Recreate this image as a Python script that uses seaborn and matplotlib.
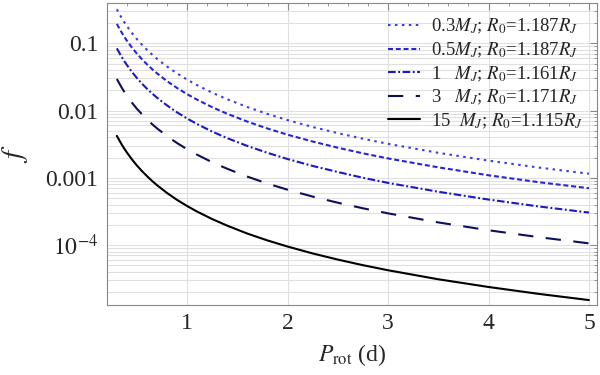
import numpy as np
import pandas as pd
import matplotlib
matplotlib.use("Agg")
import matplotlib.pyplot as plt
import matplotlib.ticker as mticker
import seaborn as sns

# rotation period (d) and f for each planet model
period = [0.3, 0.325, 0.35, 0.375, 0.4, 0.45, 0.5, 0.55, 0.6, 0.65, 0.7, 0.8, 0.9, 1.0,
          1.1, 1.25, 1.4, 1.6, 1.8, 2.0, 2.25, 2.5, 2.75, 3.0, 3.5, 4.0, 4.5, 5.0]

f_03 = [0.32, 0.2727, 0.2351, 0.2048, 0.18, 0.1422, 0.1152, 0.0952, 0.08, 0.0682, 0.0588,
        0.045, 0.0356, 0.0288, 0.0238, 0.0184, 0.0147, 0.01125, 0.00889, 0.0072, 0.00569,
        0.00461, 0.00381, 0.0032, 0.00235, 0.0018, 0.00142, 0.00115]
f_05 = [0.194, 0.166, 0.143, 0.1244, 0.109, 0.0864, 0.070, 0.0579, 0.0486, 0.0414, 0.0357,
        0.0273, 0.0216, 0.0175, 0.01446, 0.0112, 0.00893, 0.00684, 0.0054, 0.00437, 0.00346,
        0.0028, 0.00231, 0.00194, 0.00143, 0.00109, 0.00086, 0.0007]
f_1 = [0.084, 0.072, 0.062, 0.054, 0.0475, 0.0375, 0.0304, 0.0251, 0.0211, 0.018, 0.0155,
       0.0119, 0.00938, 0.0076, 0.00628, 0.00486, 0.00388, 0.00297, 0.00235, 0.0019, 0.0015,
       0.00122, 0.001, 0.00084, 0.00062, 0.000475, 0.000375, 0.000304]
f_3 = [0.0295, 0.0252, 0.0217, 0.0189, 0.0166, 0.0131, 0.0106, 0.0088, 0.0074, 0.0063,
       0.00543, 0.00416, 0.00328, 0.00266, 0.0022, 0.0017, 0.00136, 0.00104, 0.00082,
       0.000665, 0.000525, 0.000426, 0.000352, 0.000296, 0.000217, 0.000166, 0.000131, 0.000106]
f_15 = [0.0042, 0.0036, 0.0031, 0.0027, 0.00238, 0.00188, 0.00152, 0.00126, 0.00106, 0.0009,
        0.000776, 0.000594, 0.000469, 0.00038, 0.000314, 0.000243, 0.000194, 0.000148,
        0.000117, 0.000095, 0.000075, 0.0000608, 0.0000502, 0.0000422, 0.000031, 0.0000238,
        0.0000188, 0.0000152]

labels = [r"0.3$M_J$; $R_0$=1.187$R_J$",
          r"0.5$M_J$; $R_0$=1.187$R_J$",
          r"1   $M_J$; $R_0$=1.161$R_J$",
          r"3   $M_J$; $R_0$=1.171$R_J$",
          r"15  $M_J$; $R_0$=1.115$R_J$"]

ytick_vals = [1e-4, 1e-3, 1e-2, 1e-1]
ytick_labels = [r"$10^{-4}$", "0.001", "0.01", "0.1"]
xtick_vals = [1, 2, 3, 4, 5]

sns.set_style("white")
plt.rcParams["font.family"] = ["Liberation Serif", "DejaVu Serif"]
plt.rcParams["mathtext.fontset"] = "stix"
plt.rcParams["lines.scale_dashes"] = False

colors = ["#3c3ce8", "#2626d8", "#1a1ac4", "#0e0e5e", "#000000"]
dashes = [(0, (1.8, 3.2)), (0, (3.6, 2.0)), (0, (5.5, 1.8, 1.4, 1.8)),
          (0, (11, 9)), "-"]

fig = plt.figure(figsize=(6, 3.75), dpi=100)
ax = fig.add_axes([0.178, 0.187, 0.817, 0.805])

series = [f_03, f_05, f_1, f_3, f_15]
for vals, lab, c, ls in zip(series, labels, colors, dashes):
    df = pd.DataFrame({"P": period, "f": vals})
    sns.lineplot(data=df, x="P", y="f", ax=ax, color=c, linestyle=ls, lw=1.5, label=lab)

ax.set_yscale("log")
ax.set_xlim(0.2, 5.08)
ax.set_ylim(1.29e-5, 0.397)

ax.set_xticks(xtick_vals)
ax.set_xticklabels([str(v) for v in xtick_vals])
ax.xaxis.set_minor_locator(mticker.MultipleLocator(0.2))
ax.set_yticks(ytick_vals)
ax.set_yticklabels(ytick_labels)
ax.yaxis.set_minor_locator(mticker.LogLocator(base=10, subs=np.arange(2, 10)))
ax.yaxis.set_minor_formatter(mticker.NullFormatter())

ax.tick_params(which="both", direction="in", top=True, right=True, color="#888888",
               labelsize=17, pad=6)
ax.tick_params(which="major", length=5, width=0.8)
ax.tick_params(which="minor", length=2.5, width=0.6)

ax.grid(True, which="major", axis="x", color="#e0e0e0", lw=0.8)
ax.grid(True, which="both", axis="y", color="#e0e0e0", lw=0.8)
ax.set_axisbelow(True)
for sp in ax.spines.values():
    sp.set_color("#888888")
    sp.set_linewidth(0.8)

ax.set_xlabel(r"$P_{\rm rot}$ (d)", fontsize=17, labelpad=6)
ax.set_ylabel(r"$f$", fontsize=21, labelpad=11)

ax.legend(loc="upper right", frameon=False, fontsize=13.5, handlelength=1.7,
          handletextpad=0.6, labelspacing=0.22, borderaxespad=0.35)

fig.savefig("out.png", dpi=100)
